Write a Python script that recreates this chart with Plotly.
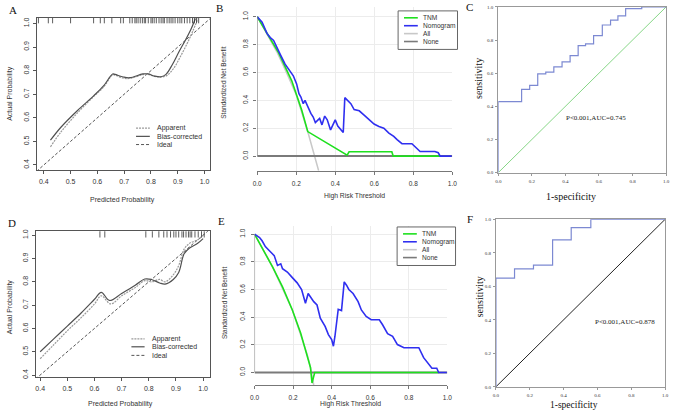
import plotly.graph_objects as go

W, H = 676, 415
SANS = "Liberation Sans, Arial, sans-serif"
SERIF = "Liberation Serif, Times New Roman, serif"


def px(x):
    return x / W


def py(y):
    return 1 - y / H


# ---------------- Panel A: calibration (training) ----------------
a_bias_x = [0.425, 0.464, 0.525, 0.586, 0.623, 0.657, 0.666, 0.697, 0.721, 0.77, 0.789, 0.813, 0.838, 0.856, 0.88, 0.905, 0.929, 0.948, 0.966]
a_bias_y = [0.505, 0.56, 0.63, 0.693, 0.735, 0.786, 0.784, 0.773, 0.77, 0.786, 0.786, 0.777, 0.774, 0.784, 0.826, 0.881, 0.93, 0.972, 1.021]
a_app_x = [0.425, 0.464, 0.525, 0.586, 0.623, 0.657, 0.666, 0.697, 0.721, 0.77, 0.789, 0.813, 0.838, 0.86, 0.885, 0.91, 0.935, 0.955, 0.975]
a_app_y = [0.477, 0.54, 0.62, 0.69, 0.73, 0.782, 0.781, 0.768, 0.767, 0.783, 0.784, 0.776, 0.773, 0.78, 0.81, 0.86, 0.915, 0.965, 1.02]
a_ideal = [0.373, 1.02]
a_rug = [0.38, 0.417, 0.433, 0.50, 0.586, 0.611, 0.626, 0.654, 0.687, 0.697, 0.721, 0.73, 0.74, 0.745, 0.752,
         0.76, 0.768, 0.775, 0.78, 0.79, 0.80, 0.805, 0.812, 0.82, 0.83, 0.838, 0.845, 0.85, 0.86, 0.868,
         0.875, 0.882, 0.89, 0.9, 0.908, 0.915, 0.925, 0.935, 0.945, 0.955, 0.962, 0.97, 0.978]

# ---------------- Panel D: calibration (validation) ----------------
d_bias_x = [0.40, 0.45, 0.50, 0.55, 0.60, 0.625, 0.655, 0.70, 0.75, 0.785, 0.81, 0.84, 0.86, 0.89, 0.91, 0.93, 0.95, 0.98, 1.0]
d_bias_y = [0.50, 0.555, 0.61, 0.665, 0.725, 0.755, 0.72, 0.75, 0.785, 0.812, 0.81, 0.795, 0.79, 0.81, 0.84, 0.92, 0.945, 0.965, 0.985]
d_app_x = [0.40, 0.45, 0.50, 0.55, 0.60, 0.625, 0.66, 0.70, 0.75, 0.785, 0.81, 0.84, 0.86, 0.89, 0.91, 0.93, 0.95, 0.98, 1.0]
d_app_y = [0.47, 0.53, 0.59, 0.645, 0.705, 0.74, 0.705, 0.74, 0.775, 0.805, 0.80, 0.81, 0.80, 0.83, 0.87, 0.94, 0.965, 0.98, 1.0]
d_ideal = [0.383, 1.025]
d_rug = [0.62, 0.638, 0.789, 0.813, 0.837, 0.855, 0.867, 0.88, 0.892, 0.9, 0.91, 0.922, 0.928, 0.937,
         0.946, 0.952, 0.958, 0.97, 0.982, 0.994, 1.004]

calib_ticks = [0.4, 0.5, 0.6, 0.7, 0.8, 0.9, 1.0]
calib_labels = ["0.4", "0.5", "0.6", "0.7", "0.8", "0.9", "1.0"]

# ---------------- Panel B: decision curve (training) ----------------
b_nomo_x = [0, 0.025, 0.05, 0.067, 0.084, 0.10, 0.118, 0.143, 0.169, 0.185, 0.202, 0.214, 0.224, 0.236, 0.245,
            0.258, 0.275, 0.287, 0.298, 0.312, 0.32, 0.332, 0.346, 0.359, 0.376, 0.388, 0.40, 0.413, 0.43, 0.441,
            0.449, 0.464, 0.48, 0.497, 0.523, 0.548, 0.573, 0.599, 0.624, 0.649, 0.675, 0.70, 0.717, 0.742,
            0.793, 0.818, 0.835, 0.911, 0.928, 0.938, 0.997]
b_nomo_y = [1.0, 0.96, 0.88, 0.85, 0.83, 0.78, 0.73, 0.66, 0.61, 0.576, 0.518, 0.447, 0.424, 0.376, 0.40,
            0.353, 0.306, 0.28, 0.24, 0.26, 0.27, 0.224, 0.287, 0.26, 0.188, 0.224, 0.26, 0.216, 0.184, 0.169,
            0.419, 0.40, 0.376, 0.334, 0.325, 0.294, 0.259, 0.23, 0.212, 0.20, 0.165, 0.141, 0.118, 0.089,
            0.089, 0.059, 0.033, 0.033, 0.024, 0.0, 0.0]
b_tnm_x = [0, 0.05, 0.11, 0.177, 0.228, 0.259, 0.461, 0.471, 0.69, 0.697, 0.938]
b_tnm_y = [1.0, 0.88, 0.74, 0.54, 0.33, 0.176, 0.007, 0.031, 0.031, 0.0, 0.0]
b_all_x = [0, 0.05, 0.1, 0.15, 0.2, 0.259, 0.315]
b_all_y = [1.0, 0.88, 0.75, 0.60, 0.44, 0.176, -0.105]
b_none_x = [0, 1.0]
b_none_y = [0, 0]

# ---------------- Panel E: decision curve (validation) ----------------
e_nomo_x = [0, 0.026, 0.039, 0.056, 0.077, 0.102, 0.119, 0.136, 0.145, 0.17, 0.196, 0.221, 0.244, 0.264, 0.278,
            0.295, 0.307, 0.324, 0.341, 0.366, 0.383, 0.40, 0.409, 0.417, 0.434, 0.451, 0.465, 0.477, 0.489,
            0.511, 0.537, 0.554, 0.579, 0.605, 0.647, 0.664, 0.69, 0.716, 0.741, 0.775, 0.852, 0.877, 0.903,
            0.92, 0.945, 0.955, 0.997]
e_nomo_y = [1.0, 0.976, 0.952, 0.91, 0.88, 0.845, 0.774, 0.786, 0.75, 0.726, 0.686, 0.648, 0.60, 0.50, 0.571,
            0.536, 0.512, 0.488, 0.393, 0.333, 0.274, 0.238, 0.19, 0.262, 0.457, 0.448, 0.655, 0.631, 0.60,
            0.571, 0.512, 0.452, 0.405, 0.381, 0.381, 0.345, 0.281, 0.262, 0.202, 0.179, 0.179, 0.107, 0.06,
            0.031, 0.031, 0.0, 0.0]
e_tnm_x = [0, 0.043, 0.094, 0.145, 0.196, 0.239, 0.273, 0.29, 0.298, 0.312, 0.955]
e_tnm_y = [1.0, 0.893, 0.762, 0.619, 0.452, 0.286, 0.131, 0.036, -0.076, 0.0, 0.0]
e_all_x = [0, 0.094, 0.196, 0.273, 0.29, 0.307]
e_all_y = [1.0, 0.762, 0.452, 0.131, 0.036, -0.09]
e_none_x = [0, 1.0]
e_none_y = [0, 0]

dca_ticks = [0.0, 0.2, 0.4, 0.6, 0.8, 1.0]
dca_labels = ["0.0", "0.2", "0.4", "0.6", "0.8", "1.0"]

# ---------------- Panel C / F: ROC curves ----------------
c_fpr = [0, 0, 0.139, 0.187, 0.235, 0.283, 0.331, 0.38, 0.428, 0.476, 0.52, 0.568, 0.62, 0.669, 0.713, 0.759, 0.855, 1.0]
c_tpr = [0, 0.429, 0.503, 0.527, 0.596, 0.606, 0.638, 0.668, 0.706, 0.767, 0.777, 0.827, 0.891, 0.92, 0.946, 0.99, 1.0, 1.0]
f_fpr = [0, 0, 0.110, 0.222, 0.335, 0.445, 0.561, 1.0]
f_tpr = [0, 0.649, 0.704, 0.727, 0.877, 0.951, 1.0, 1.0]
ref_line = [0, 1]
c_text = "P<0.001,AUC=0.745"
f_text = "P<0.001,AUC=0.878"

GREEN = "#1ee01e"
BLUE = "#2f2ff0"
ALLC = "#c8c8c8"
NONEC = "#7a7a7a"
ROC_BLUE = "#7c89d2"

fig = go.Figure()


def calib(ax, bx, by, ax_, ay_, ideal, rug, rug_y):
    xa, ya = ax
    fig.add_trace(go.Scatter(x=ideal, y=ideal, mode="lines", line=dict(color="#555", width=1, dash="3px,2px"),
                             xaxis=xa, yaxis=ya, hoverinfo="skip"))
    fig.add_trace(go.Scatter(x=ax_, y=ay_, mode="lines", line=dict(color="#9a9a9a", width=1.2, dash="2px,1px", shape="spline"),
                             xaxis=xa, yaxis=ya))
    fig.add_trace(go.Scatter(x=bx, y=by, mode="lines", line=dict(color="#505050", width=1.2, shape="spline"),
                             xaxis=xa, yaxis=ya))
    fig.add_trace(go.Scatter(x=rug, y=[rug_y] * len(rug), mode="markers",
                             marker=dict(symbol="line-ns", size=5, line=dict(color="#333", width=0.8)),
                             xaxis=xa, yaxis=ya))


calib(("x", "y"), a_bias_x, a_bias_y, a_app_x, a_app_y, a_ideal, a_rug, 1.0155)
calib(("x4", "y4"), d_bias_x, d_bias_y, d_app_x, d_app_y, d_ideal, d_rug, 1.005)


def dca(xa, ya, allx, ally, nonex, noney, tx, ty, nx, ny):
    fig.add_trace(go.Scatter(x=allx, y=ally, mode="lines", line=dict(color=ALLC, width=1.5), xaxis=xa, yaxis=ya))
    fig.add_trace(go.Scatter(x=nonex, y=noney, mode="lines", line=dict(color=NONEC, width=2), xaxis=xa, yaxis=ya))
    fig.add_trace(go.Scatter(x=tx, y=ty, mode="lines", line=dict(color=GREEN, width=1.6), xaxis=xa, yaxis=ya))
    fig.add_trace(go.Scatter(x=nx, y=ny, mode="lines", line=dict(color=BLUE, width=1.6), xaxis=xa, yaxis=ya))


dca("x2", "y2", b_all_x, b_all_y, b_none_x, b_none_y, b_tnm_x, b_tnm_y, b_nomo_x, b_nomo_y)
dca("x5", "y5", e_all_x, e_all_y, e_none_x, e_none_y, e_tnm_x, e_tnm_y, e_nomo_x, e_nomo_y)

fig.add_trace(go.Scatter(x=ref_line, y=ref_line, mode="lines", line=dict(color="#86d686", width=1), xaxis="x3", yaxis="y3"))
fig.add_trace(go.Scatter(x=c_fpr, y=c_tpr, mode="lines", line=dict(color=ROC_BLUE, width=1.2, shape="hv"), xaxis="x3", yaxis="y3"))
fig.add_trace(go.Scatter(x=ref_line, y=ref_line, mode="lines", line=dict(color="#222", width=1), xaxis="x6", yaxis="y6"))
fig.add_trace(go.Scatter(x=f_fpr, y=f_tpr, mode="lines", line=dict(color=ROC_BLUE, width=1.2, shape="hv"), xaxis="x6", yaxis="y6"))


def calib_axes(x0, x1, y0, y1, xr, yr, anchor_x, anchor_y):
    common = dict(showline=True, mirror=True, linecolor="#555", linewidth=1, ticks="outside", ticklen=3,
                  tickwidth=1, tickcolor="#555", tickvals=calib_ticks, ticktext=calib_labels,
                  tickfont=dict(family=SANS, size=7, color="#333"), showgrid=False, zeroline=False)
    xa = dict(common, domain=[px(x0), px(x1)], range=xr, anchor=anchor_y, ticklabelstandoff=2)
    ya = dict(common, domain=[py(y1), py(y0)], range=yr, anchor=anchor_x, tickangle=-90, ticklabelstandoff=1)
    return xa, ya


def dca_axes(x0, x1, y0, y1, yr, anchor_x, anchor_y):
    common = dict(ticks="outside", ticklen=3, tickwidth=1, tickcolor="#777", tickvals=dca_ticks, ticktext=dca_labels,
                  tickfont=dict(family=SANS, size=6.5, color="#333"), showgrid=True, gridcolor="#ececec",
                  gridwidth=1, zeroline=False)
    xa = dict(common, domain=[px(x0), px(x1)], range=[0, 1], anchor=anchor_y, showline=True, linecolor="#777",
              linewidth=1, ticklabelstandoff=3)
    ya = dict(common, domain=[py(y1), py(y0)], range=yr, anchor=anchor_x, showline=False, tickangle=-90,
              ticklabelstandoff=3)
    return xa, ya


def roc_axes(x0, x1, y0, y1, anchor_x, anchor_y):
    common = dict(range=[0, 1], showline=True, mirror=True, linecolor="#999", linewidth=1, ticks="outside", ticklen=2,
                  tickwidth=1, tickcolor="#999", tickvals=dca_ticks, ticktext=dca_labels,
                  tickfont=dict(family=SERIF, size=5, color="#333"), showgrid=False, zeroline=False)
    xa = dict(common, domain=[px(x0), px(x1)], anchor=anchor_y, ticklabelstandoff=1)
    ya = dict(common, domain=[py(y1), py(y0)], anchor=anchor_x, ticklabelstandoff=1)
    return xa, ya


xa1, ya1 = calib_axes(32, 208, 16, 170, [0.373, 1.02], [0.379, 1.024], "x", "y")
xa4, ya4 = calib_axes(31, 208, 232, 379.5, [0.383, 1.025], [0.392, 1.017], "x4", "y4")
xa2, ya2 = dca_axes(256, 454, 5, 170.8, [-0.105, 1.07], "x2", "y2")
xa5, ya5 = dca_axes(253.3, 449, 226.6, 387.6, [-0.09, 1.06], "x5", "y5")
xa3, ya3 = roc_axes(500.7, 671, 5, 172.7, "x3", "y3")
xa6, ya6 = roc_axes(498.3, 670, 220, 389.5, "x6", "y6")

shapes = []
# y-axis lines for the decision curve panels (R style axis from 0 to 1)
for xr_, yr_ in (("x2", "y2"), ("x5", "y5")):
    shapes.append(dict(type="line", xref=xr_, yref=yr_, x0=0, x1=0, y0=0, y1=1, line=dict(color="#777", width=1)))

annotations = []


def ann(text, x, y, size, family=SANS, angle=0, xanchor="center", color="#333"):
    annotations.append(dict(text=text, x=px(x), y=py(y), xref="paper", yref="paper", showarrow=False,
                            font=dict(family=family, size=size, color=color), textangle=angle,
                            xanchor=xanchor, yanchor="middle"))


# panel letters
for letter, lx, ly in (("A", 8, 8), ("B", 218, 6), ("C", 471, 5), ("D", 7, 224), ("E", 220, 222), ("F", 472, 220)):
    ann(letter, lx, ly, 11, SERIF, color="#111")

# axis titles
ann("Predicted Probability", 119, 200, 7)
ann("Actual Probability", 5, 92, 7, angle=-90)
ann("Predicted Probability", 117, 406.5, 7)
ann("Actual Probability", 5, 308, 7, angle=-90)
ann("High Risk Threshold", 355, 196.7, 6.8)
ann("Standardized Net Benefit", 221, 82, 6.5, angle=-90)
ann("High Risk Threshold", 351, 406.5, 6.8)
ann("Standardized Net Benefit", 223, 305, 6.5, angle=-90)
ann("1-specificity", 575, 197, 10, SERIF, color="#111")
ann("sensitivity", 480, 77, 10, SERIF, angle=-90, color="#111")
ann("1-specificity", 578, 407.5, 9.5, SERIF, color="#111")
ann("sensitivity", 482, 298, 10, SERIF, angle=-90, color="#111")

# ROC statistics text
annotations.append(dict(text=c_text, x=0.585, y=0.33, xref="x3", yref="y3", showarrow=False,
                        font=dict(family=SERIF, size=7, color="#222")))
annotations.append(dict(text=f_text, x=0.765, y=0.386, xref="x6", yref="y6", showarrow=False,
                        font=dict(family=SERIF, size=7, color="#222")))

# calibration legends
calib_leg = [("Apparent", dict(color="#9a9a9a", width=1.2, dash="2px,1px")),
             ("Bias-corrected", dict(color="#505050", width=1.2)),
             ("Ideal", dict(color="#555", width=1, dash="3px,2px"))]
for (lx0, lx1, tx, rows) in ((133, 147, 152.7, (127.7, 136, 144.3)), (128.3, 141.7, 146.7, (341, 349, 357.7))):
    for (name, lst), ry in zip(calib_leg, rows):
        shapes.append(dict(type="line", xref="paper", yref="paper", x0=px(lx0), x1=px(lx1), y0=py(ry), y1=py(ry), line=lst))
        ann(name, tx, ry, 7, xanchor="left")

# decision curve legends
dca_leg = [("TNM", GREEN), ("Nomogram", BLUE), ("All", ALLC), ("None", NONEC)]
for (bx0, bx1, by0, by1) in ((399, 459.3, 9, 48), (398, 457.3, 227.7, 266.7)):
    shapes.append(dict(type="rect", xref="paper", yref="paper", x0=px(bx0), x1=px(bx1), y0=py(by1), y1=py(by0),
                       line=dict(color="#666", width=1), fillcolor="white", layer="above"))
    for i, (name, col) in enumerate(dca_leg):
        ry = by0 + 7 + 8 * i
        shapes.append(dict(type="line", xref="paper", yref="paper", x0=px(bx0 + 6), x1=px(bx0 + 20), y0=py(ry), y1=py(ry),
                           line=dict(color=col, width=1.6), layer="above"))
        ann(name, bx0 + 23.3, ry, 6.6, xanchor="left")

fig.update_layout(
    width=W, height=H, autosize=False, margin=dict(l=0, r=0, t=0, b=0),
    paper_bgcolor="white", plot_bgcolor="white", showlegend=False,
    xaxis=xa1, yaxis=ya1, xaxis2=xa2, yaxis2=ya2, xaxis3=xa3, yaxis3=ya3,
    xaxis4=xa4, yaxis4=ya4, xaxis5=xa5, yaxis5=ya5, xaxis6=xa6, yaxis6=ya6,
    shapes=shapes, annotations=annotations,
)

fig.write_html("out.html", config={"displayModeBar": False},
               post_script="document.body.style.margin='0';document.body.style.overflow='hidden';")
